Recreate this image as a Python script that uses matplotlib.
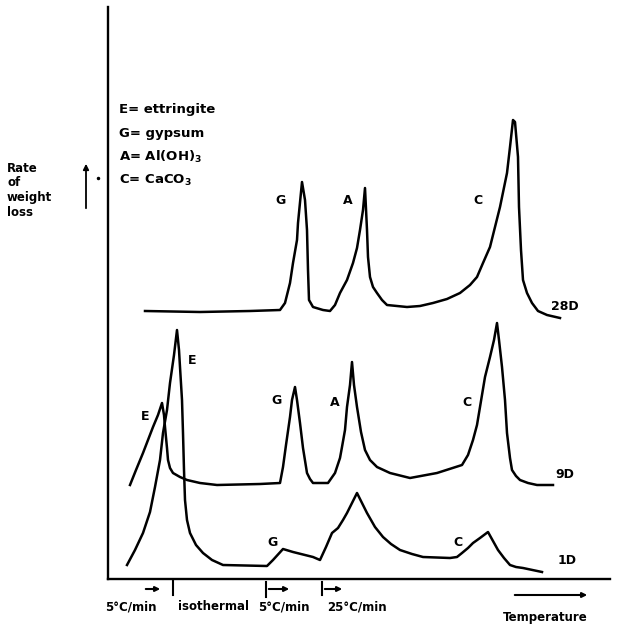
import matplotlib
matplotlib.use("Agg")
import matplotlib.pyplot as plt

# curves: x = temperature position, y = rate of weight loss (arbitrary units)
x_28d = [145, 200, 250, 280, 285, 290, 293, 297, 298, 302, 305, 307, 308, 309, 313, 323, 330, 335,
         340, 347, 353, 357, 360, 363, 365, 367, 368, 370, 373, 377, 382, 387, 407, 420, 433, 447,
         460, 470, 477, 483, 490, 495, 500, 507, 510, 513, 515, 518, 519, 521, 523, 527, 532, 538,
         547, 560]
y_28d = [268, 267, 268, 269, 276, 296, 316, 339, 356, 397, 379, 349, 309, 279, 272, 269, 268, 274,
         286, 299, 316, 331, 349, 369, 391, 349, 322, 302, 292, 286, 279, 274, 272, 273, 276, 280,
         286, 294, 302, 316, 332, 352, 372, 406, 432, 459, 457, 422, 372, 329, 299, 286, 276, 268,
         264, 261]

x_9d = [130, 136, 143, 148, 153, 158, 162, 164, 165, 167, 168, 170, 173, 180, 187, 200, 217, 260,
        280, 283, 286, 290, 292, 295, 297, 300, 303, 307, 310, 313, 328, 335, 340, 342, 345, 347,
        350, 352, 354, 357, 361, 365, 370, 377, 390, 410, 437, 462, 468, 473, 477, 480, 485, 490,
        494, 497, 499, 502, 505, 507, 510, 512, 516, 520, 528, 537, 553]
y_9d = [94, 109, 126, 139, 152, 164, 176, 164, 152, 131, 119, 111, 106, 102, 99, 96, 94, 95,
        96, 112, 134, 162, 179, 192, 179, 156, 131, 106, 100, 96, 96, 106, 121, 132, 149, 172,
        194, 217, 194, 172, 147, 129, 119, 112, 106, 101, 106, 114, 124, 139, 154, 172, 202, 222,
        239, 256, 239, 212, 179, 146, 121, 109, 103, 99, 96, 94, 94]

x_1d = [127, 135, 143, 150, 155, 160, 163, 167, 170, 174, 177, 179, 180, 182, 183, 184, 185, 187,
        190, 196, 203, 212, 223, 267, 273, 283, 293, 313, 320, 326, 332, 338, 343, 347, 352, 357,
        362, 367, 375, 383, 391, 400, 412, 423, 450, 457, 462, 468, 473, 480, 488, 493, 498, 504,
        510, 516, 523, 542]
y_1d = [14, 29, 46, 67, 92, 119, 146, 169, 196, 224, 249, 229, 212, 179, 146, 109, 79, 59,
        46, 34, 26, 19, 14, 13, 19, 30, 27, 22, 19, 32, 46, 51, 59, 66, 76, 86,
        76, 66, 52, 42, 35, 29, 25, 22, 21, 22, 26, 31, 36, 41, 47, 38, 29, 21,
        14, 12, 11, 7]

curve_names = ["28D", "9D", "1D"]
peak_labels = {
    "28D": [("G", 280, 379), ("A", 348, 379), ("C", 478, 379)],
    "9D": [("E", 145, 162), ("G", 277, 179), ("A", 335, 177), ("C", 467, 177)],
    "1D": [("E", 192, 219), ("G", 273, 36), ("C", 458, 36)],
}
name_pos = {"28D": (565, 272), "9D": (565, 104), "1D": (567, 19)}

legend_lines = ["E= ettringite", "G= gypsum", r"A= Al(OH)$_\mathbf{3}$", r"C= CaCO$_\mathbf{3}$"]
rate_labels = ["5\u00b0C/min", "isothermal", "5\u00b0C/min", "25\u00b0C/min"]
rate_label_x = [105, 178, 258, 327]

W, H = 619, 631
fig = plt.figure(figsize=(W / 100, H / 100), dpi=100)
ax = fig.add_axes([108 / W, 52 / H, (610 - 108) / W, (579 - 7) / H])
ax.set_xlim(108, 610)
ax.set_ylim(0, 572)
for s in ["top", "right"]:
    ax.spines[s].set_visible(False)
for s in ["left", "bottom"]:
    ax.spines[s].set_linewidth(1.7)
ax.set_xticks([])
ax.set_yticks([])

lw = 1.8
ax.plot(x_28d, y_28d, color="black", lw=lw, solid_joinstyle="round")
ax.plot(x_9d, y_9d, color="black", lw=lw, solid_joinstyle="round")
ax.plot(x_1d, y_1d, color="black", lw=lw, solid_joinstyle="round")

tk = dict(fontsize=9, fontweight="bold", ha="center", va="center")
for name in curve_names:
    for lab, lx, ly in peak_labels[name]:
        ax.text(lx, ly, lab, **tk)
    ax.text(*name_pos[name], name, **tk)

# key
for i, line in enumerate(legend_lines):
    ax.text(119, 469 - i * 23.5, line, fontsize=9.5, fontweight="bold", ha="left", va="center")

# y label on the left
for i, word in enumerate(["Rate", "of", "weight", "loss"]):
    ax.text(7, 411 - i * 15, word, fontsize=8.5, fontweight="bold", ha="left", va="center",
            clip_on=False)
ax.annotate("", xy=(86, 418), xytext=(86, 368), annotation_clip=False,
            arrowprops=dict(arrowstyle="-|>", color="black", lw=1.3, mutation_scale=8))
ax.plot([98], [401], marker="o", ms=1.5, color="black", clip_on=False)

# heating programme marks below the axis
ak = dict(arrowstyle="-|>", color="black", lw=1.5, mutation_scale=7)
ax.annotate("", xy=(163, -10), xytext=(143, -10), annotation_clip=False, arrowprops=ak)
ax.plot([173, 173], [-2, -16], color="black", lw=1.5, clip_on=False)
ax.plot([266, 266], [-3, -18], color="black", lw=1.5, clip_on=False)
ax.annotate("", xy=(292, -10), xytext=(266, -10), annotation_clip=False, arrowprops=ak)
ax.plot([322, 322], [-3, -16], color="black", lw=1.5, clip_on=False)
ax.annotate("", xy=(345, -10), xytext=(322, -10), annotation_clip=False, arrowprops=ak)
for lab, lx in zip(rate_labels, rate_label_x):
    ax.text(lx, -28, lab, fontsize=8.5, fontweight="bold", ha="left", va="center")

ax.annotate("", xy=(590, -16), xytext=(512, -16), annotation_clip=False, arrowprops=ak)
ax.text(545, -39, "Temperature", fontsize=8.5, fontweight="bold", ha="center", va="center")

fig.savefig("out.png", dpi=100)
